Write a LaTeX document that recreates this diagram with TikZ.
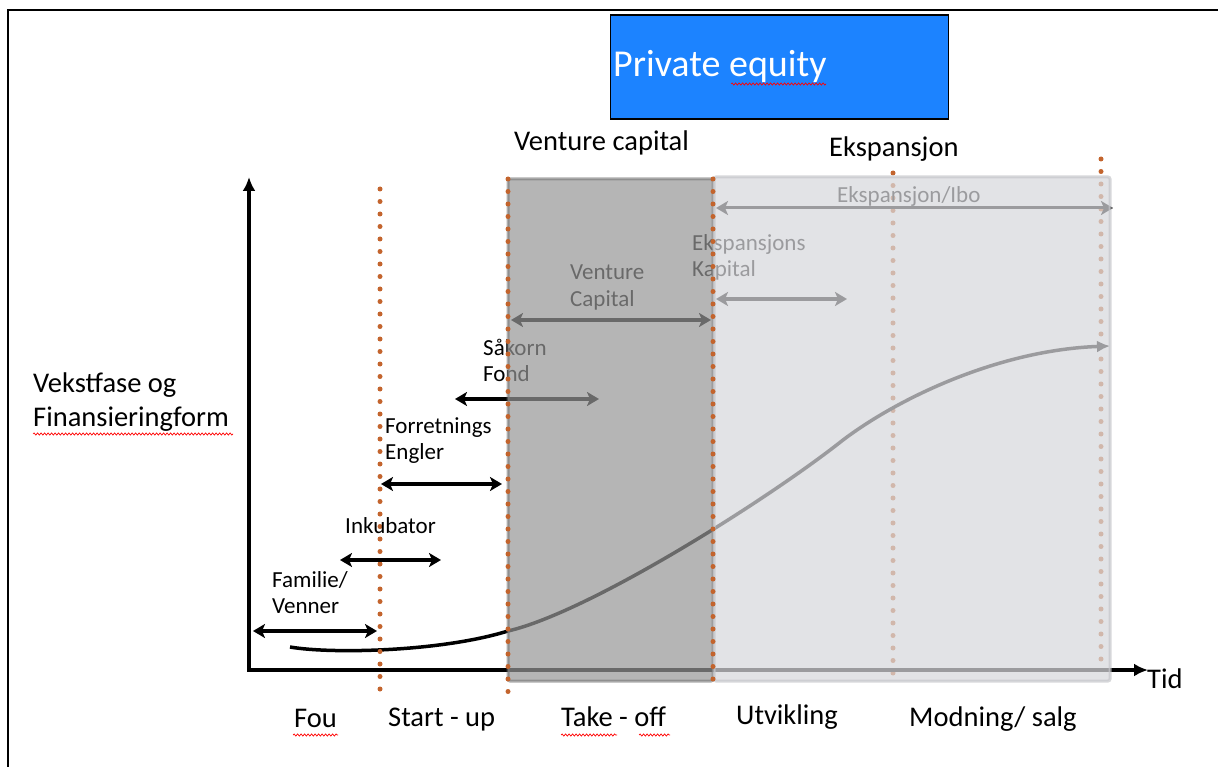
\documentclass[tikz,border=0pt]{standalone}
\usepackage{fontspec}
\setmainfont{Carlito}
\usetikzlibrary{arrows.meta,decorations.pathmorphing}

\tikzset{
  biglbl/.style={font=\fontsize{28.5}{34}\selectfont, anchor=base west, inner sep=0pt},
  smalllbl/.style={font=\fontsize{23}{26}\selectfont, anchor=base west, inner sep=0pt},
  twoway/.style={line width=3.5pt, >={Stealth[length=12pt,width=14pt,inset=3pt]}, <->},
  phaseline/.style={line width=5pt, line cap=round, dash pattern=on 0pt off 12.5pt, draw=phase},
  axis/.style={line width=3.5pt, >={Latex[length=14pt,width=13pt]}, <->},
  spell/.style={draw=red, line width=0.7pt, decorate, decoration={snake, amplitude=1.1pt, segment length=3.5pt}}
}

\begin{document}
\begin{tikzpicture}[x=1pt,y=-1pt]
% Define colours
\definecolor{pe}{RGB}{28,131,255}
\definecolor{phase}{RGB}{195,100,45}
\definecolor{vcgray}{RGB}{150,150,150}
\definecolor{vcedge}{RGB}{118,118,118}
\definecolor{expgray}{RGB}{215,216,220}
\definecolor{expedge}{RGB}{198,199,203}

\useasboundingbox (0,0) rectangle (1218,767);

% Draw frame
\draw[line width=2pt] (8,767) -- (8,10) -- (1218,10);

% Private equity box
\node[draw=black, line width=1.2pt, fill=pe, minimum width=338pt, minimum height=104pt, inner sep=0pt] (pebox) at (779.5,67) {};
\node[font=\fontsize{38}{44}\selectfont, text=white, anchor=base west, inner sep=0pt] (pelbl) at (613,77) {Private equity};

% Phase headings
\node[biglbl] (vclbl) at (514,151) {Venture capital};
\node[biglbl] (eklbl) at (829,157) {Ekspansjon};

% Phase borders behind the expansion area
\coordinate (p4t) at (893,173);
\coordinate (p4b) at (893,684);
\coordinate (p5t) at (1101,159);
\coordinate (p5b) at (1101,670);
\draw[phaseline] (p4t) -- (p4b);
\draw[phaseline] (p5t) -- (p5b);

% Draw axes
\coordinate (ytop) at (249,177);
\coordinate (origin) at (249,670);
\coordinate (xend) at (1148,670);
\draw[axis] (ytop) -- (origin) -- (xend);
\node[biglbl] (tidlbl) at (1147,688) {Tid};

% Growth curve
\draw[line width=3.5pt, -{Latex[length=13pt,width=12pt]}]
  (290,647) .. controls (330,654) and (440,652) .. (508,631)
  .. controls (590,612) and (770,498) .. (843,440)
  .. controls (900,397) and (1000,350) .. (1110,346);

% Funding labels under the shaded areas
\node[smalllbl] (sklbl1) at (483,355) {Såkorn};
\node[smalllbl] (sklbl2) at (483,381) {Fond};
\coordinate (sk-l) at (455,399);
\coordinate (sk-r) at (599,399);
\draw[twoway] (sk-l) -- (sk-r);

\node[smalllbl] (vcflbl1) at (570,280) {Venture};
\node[smalllbl] (vcflbl2) at (570,306) {Capital};
\coordinate (vc-l) at (511,320);
\coordinate (vc-r) at (711,320);
\draw[twoway] (vc-l) -- (vc-r);

\node[smalllbl] (eklbl1) at (692,251) {Ekspansjons};
\node[smalllbl] (eklbl2) at (692,277) {Kapital};
\coordinate (ek-l) at (716,299);
\coordinate (ek-r) at (847,299);
\draw[twoway] (ek-l) -- (ek-r);

\node[smalllbl] (lbolbl) at (837,203) {Ekspansjon/Ibo};
\coordinate (lbo-l) at (716,208);
\coordinate (lbo-r) at (1113,208);
\draw[twoway, line width=3pt] (lbo-l) -- (lbo-r);

% Shaded phases
\draw[fill=vcgray, draw=vcedge, line width=3pt, fill opacity=0.7, draw opacity=0.6, rounded corners=2pt]
  (508,179) rectangle (713,681);
\draw[fill=expgray, draw=expedge, line width=3pt, fill opacity=0.72, draw opacity=0.7, rounded corners=2pt]
  (714,177) rectangle (1110,681);

% Phase borders in front
\coordinate (p1t) at (380,189);
\coordinate (p1b) at (380,700);
\coordinate (p2t) at (508,179);
\coordinate (p2b) at (508,700);
\coordinate (p3t) at (713,179);
\coordinate (p3b) at (713,689);
\draw[phaseline] (p1t) -- (p1b);
\draw[phaseline] (p2t) -- (p2b);
\draw[phaseline] (p3t) -- (p3b);

% Early funding
\node[smalllbl] (fllbl1) at (385,433) {Forretnings};
\node[smalllbl] (fllbl2) at (385,459) {Engler};
\coordinate (fe-l) at (381,484);
\coordinate (fe-r) at (502,484);
\draw[twoway] (fe-l) -- (fe-r);

\node[smalllbl] (inklbl) at (345,533) {Inkubator};
\coordinate (ink-l) at (340,560);
\coordinate (ink-r) at (441,560);
\draw[twoway] (ink-l) -- (ink-r);

\node[smalllbl] (famlbl1) at (272,587) {Familie/};
\node[smalllbl] (famlbl2) at (272,613) {Venner};
\coordinate (fam-l) at (253,631);
\coordinate (fam-r) at (377,631);
\draw[twoway] (fam-l) -- (fam-r);

% Axis label
\node[biglbl] (vklbl1) at (33,392) {Vekstfase og};
\node[biglbl] (vklbl2) at (33,426) {Finansieringform};

% Phase names
\node[biglbl] (foulbl) at (294,727) {Fou};
\node[biglbl] (stlbl) at (388,726) {Start - up};
\node[biglbl] (tolbl) at (561,726) {Take - off};
\node[biglbl] (utlbl) at (736,724) {Utvikling};
\node[biglbl] (molbl) at (909,726) {Modning/ salg};

% Spelling marks
\draw[spell] (731,84) -- (826,84);
\draw[spell] (33,434) -- (233,434);
\draw[spell] (293,735) -- (338,735);
\draw[spell] (561,735) -- (617,735);
\draw[spell] (639,735) -- (670,735);
\end{tikzpicture}
\end{document}
